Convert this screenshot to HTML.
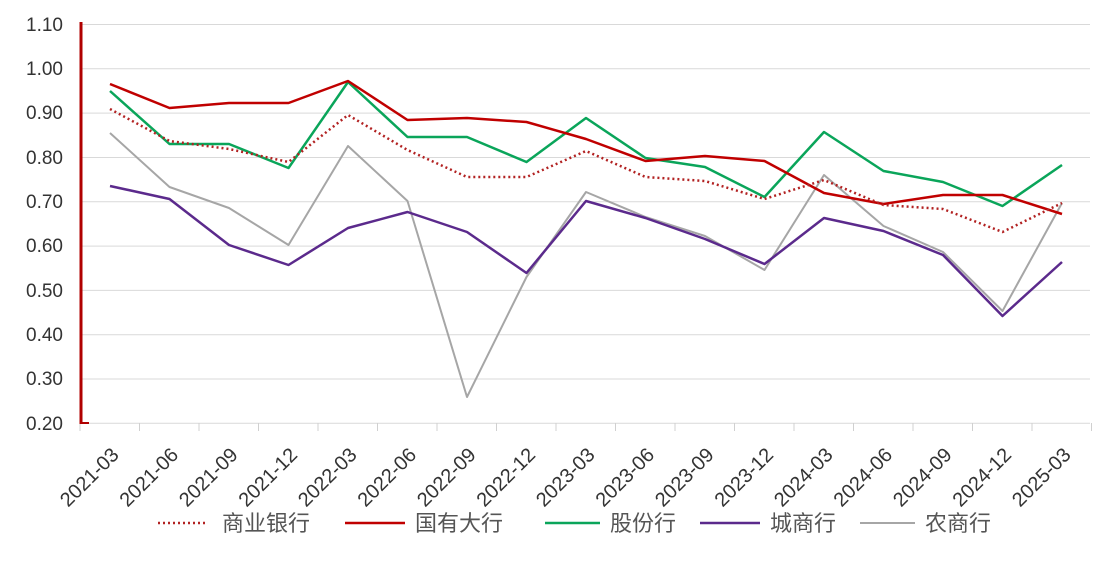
<!DOCTYPE html>
<html><head><meta charset="utf-8"><style>
body{margin:0;background:#fff;width:1116px;height:564px;overflow:hidden}
text{font-family:"Liberation Sans","Noto Sans CJK SC",sans-serif}
</style></head><body>
<svg width="1116" height="564" xmlns="http://www.w3.org/2000/svg">
<g stroke="#d9d9d9" stroke-width="1">
<line x1="80" x2="1090" y1="24.5" y2="24.5"/><line x1="80" x2="1090" y1="68.8" y2="68.8"/>
<line x1="80" x2="1090" y1="113.1" y2="113.1"/><line x1="80" x2="1090" y1="157.5" y2="157.5"/>
<line x1="80" x2="1090" y1="201.8" y2="201.8"/><line x1="80" x2="1090" y1="246.1" y2="246.1"/>
<line x1="80" x2="1090" y1="290.4" y2="290.4"/><line x1="80" x2="1090" y1="334.7" y2="334.7"/>
<line x1="80" x2="1090" y1="379" y2="379"/><line x1="80" x2="1090" y1="423.3" y2="423.3"/>
</g>
<g stroke="#d0d0d0" id="ticks"></g>
<line x1="81" x2="81" y1="22" y2="424" stroke="#b00000" stroke-width="3"/>
<line x1="81" x2="89" y1="423" y2="423" stroke="#b00000" stroke-width="2"/>
<g font-size="19" fill="#333" text-anchor="end">
<text x="63" y="31">1.10</text><text x="63" y="75">1.00</text><text x="63" y="119">0.90</text>
<text x="63" y="164">0.80</text><text x="63" y="208">0.70</text><text x="63" y="252">0.60</text>
<text x="63" y="297">0.50</text><text x="63" y="341">0.40</text><text x="63" y="385">0.30</text>
<text x="63" y="430">0.20</text>
</g>
<g id="xl" font-size="20" fill="#333" text-anchor="end"></g>
<g fill="none" stroke-width="2.5" stroke-linejoin="round">
<polyline id="gray" stroke="#a6a6a6" stroke-width="2" points=""/>
<polyline id="purple" stroke="#5b2a8c" points=""/>
<polyline id="green" stroke="#0aa55a" points=""/>
<polyline id="red" stroke="#c00000" points=""/>
<polyline id="dot" stroke="#b22222" stroke-width="2.5" stroke-dasharray="2,3" points=""/>
</g>
<g font-size="22" fill="#555">
<line x1="158" x2="208" y1="523" y2="523" stroke="#b22222" stroke-width="2.5" stroke-dasharray="2,3"/>
<text x="222" y="531">商业银行</text>
<line x1="345" x2="405" y1="523" y2="523" stroke="#c00000" stroke-width="2.5"/>
<text x="415" y="531">国有大行</text>
<line x1="545" x2="600" y1="523" y2="523" stroke="#0aa55a" stroke-width="2.5"/>
<text x="610" y="531">股份行</text>
<line x1="700" x2="760" y1="523" y2="523" stroke="#5b2a8c" stroke-width="2.5"/>
<text x="770" y="531">城商行</text>
<line x1="860" x2="915" y1="523" y2="523" stroke="#a6a6a6" stroke-width="2"/>
<text x="925" y="531">农商行</text>
</g>
</svg>
<script>
var labs=["2021-03","2021-06","2021-09","2021-12","2022-03","2022-06","2022-09","2022-12","2023-03","2023-06","2023-09","2023-12","2024-03","2024-06","2024-09","2024-12","2025-03"];
var ns="http://www.w3.org/2000/svg";
function X(i){return 110+59.5*i;}
var xl=document.getElementById("xl"),tk=document.getElementById("ticks");
for(var i=0;i<17;i++){var t=document.createElementNS(ns,"text");var x=X(i)+10,y=456;
t.setAttribute("x",x);t.setAttribute("y",y);t.setAttribute("transform","rotate(-45 "+x+" "+y+")");t.textContent=labs[i];xl.appendChild(t);}
for(var i=0;i<=17;i++){var l=document.createElementNS(ns,"line");var x=80+59.5*i;l.setAttribute("x1",x);l.setAttribute("x2",x);l.setAttribute("y1",423);l.setAttribute("y2",431);tk.appendChild(l);}
var d={
red:[84,108,103,103,81,120,118,122,139,161,156,161,193,204,195,195,214],
green:[91,144,144,168,82,137,137,162,118,158,167,197,132,171,182,206,165],
dot:[109,141,149,162,115,150,177,177,151,177,181,199,180,205,209,232,203],
purple:[186,199,245,265,228,212,232,273,201,218,239,264,218,231,255,316,262],
gray:[133,187,208,245,146,201,397,277,192,217,236,270,175,226,252,311,203]};
for(var k in d){document.getElementById(k).setAttribute("points",d[k].map(function(v,i){return X(i)+","+v;}).join(" "));}
</script>
</body></html>
